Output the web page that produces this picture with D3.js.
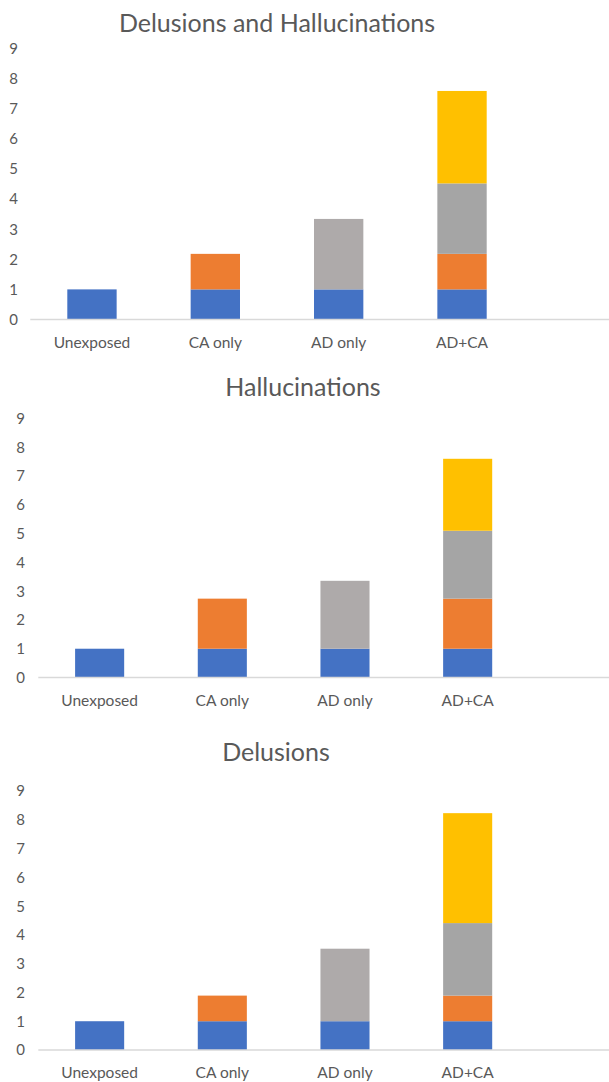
<!DOCTYPE html>
<html>
<head>
<meta charset="utf-8">
<script src="https://cdn.jsdelivr.net/npm/d3@7"></script>
<style>
  body { margin: 0; background: #fff; }
  text { font-family: Lato, "Open Sans", sans-serif; fill: #595959; }
</style>
</head>
<body>
<div id="chart"></div>
<script>
// Data
var categories = ["Unexposed", "CA only", "AD only", "AD+CA"];
var yTicks = [0, 1, 2, 3, 4, 5, 6, 7, 8, 9];
var layerColors = ["#4472C4", "#ED7D31", "#A5A5A5", "#FFC000"];
// AD only bar uses a slightly warmer grey in the original
var greyByCategory = ["#A5A5A5", "#A5A5A5", "#AEAAAA", "#A5A5A5"];

var titles = ["Delusions and Hallucinations", "Hallucinations", "Delusions"];

// stacked segments per category: [blue, orange, grey, yellow]
var bothValues = [[1, 0, 0, 0], [1, 1.18, 0, 0], [1, 0, 2.34, 0], [1, 1.18, 2.34, 3.07]];
var hallValues = [[1, 0, 0, 0], [1, 1.74, 0, 0], [1, 0, 2.36, 0], [1, 1.74, 2.36, 2.50]];
var delValues  = [[1, 0, 0, 0], [1, 0.89, 0, 0], [1, 0, 2.52, 0], [1, 0.89, 2.52, 3.82]];

// --> CREATE SVG DRAWING AREA
var width = 609,
    height = 1082;

var svg = d3.select("#chart").append("svg")
        .attr("width", width)
        .attr("height", height);

var panels = [
  { title: titles[0], values: bothValues, titleX: 277, titleY: 32,
    x0: 30.3, x1: 523.7, yBottom: 319.5, yTop: 48.5, tickX: 18, catY: 348 },
  { title: titles[1], values: hallValues, titleX: 303, titleY: 396,
    x0: 38.3, x1: 529, yBottom: 677.5, yTop: 418.5, tickX: 25, catY: 706 },
  { title: titles[2], values: delValues, titleX: 276, titleY: 761,
    x0: 38.3, x1: 529, yBottom: 1050, yTop: 791, tickX: 25, catY: 1078 }
];

panels.forEach(drawPanel);

function drawPanel(p) {
  var g = svg.append("g");

  var x = d3.scaleBand()
      .domain(categories)
      .range([p.x0, p.x1])
      .paddingInner(0.6)
      .paddingOuter(0.3);

  var y = d3.scaleLinear()
      .domain([0, 9])
      .range([p.yBottom, p.yTop]);

  // title
  g.append("text")
      .attr("x", p.titleX)
      .attr("y", p.titleY)
      .attr("text-anchor", "middle")
      .style("font-size", "25px")
      .text(p.title);

  // y tick labels (no axis line in the original)
  g.selectAll(".ytick")
      .data(yTicks)
      .enter().append("text")
      .attr("class", "ytick")
      .attr("x", p.tickX)
      .attr("y", function(d) { return y(d); })
      .attr("dy", "0.36em")
      .attr("text-anchor", "end")
      .style("font-size", "15px")
      .text(function(d) { return d; });

  // stacked bars
  var rows = p.values.map(function(v, i) {
    return { cat: categories[i], s0: v[0], s1: v[1], s2: v[2], s3: v[3] };
  });
  var stack = d3.stack().keys(["s0", "s1", "s2", "s3"]);
  var series = stack(rows);

  series.forEach(function(layer, li) {
    g.selectAll(".bar-" + li)
        .data(layer.filter(function(d) { return d[1] - d[0] > 0; }))
        .enter().append("rect")
        .attr("class", "bar-" + li)
        .attr("x", function(d) { return x(d.data.cat); })
        .attr("width", x.bandwidth())
        .attr("y", function(d) { return y(d[1]); })
        .attr("height", function(d) { return y(d[0]) - y(d[1]); })
        .attr("fill", function(d) {
          if (li == 2) {
            return greyByCategory[categories.indexOf(d.data.cat)];
          }
          return layerColors[li];
        });
  });

  // category axis line
  g.append("line")
      .attr("x1", p.x0)
      .attr("x2", width)
      .attr("y1", y(0))
      .attr("y2", y(0))
      .attr("stroke", "#D9D9D9")
      .attr("stroke-width", 1.5);

  g.selectAll(".xlabel")
      .data(categories)
      .enter().append("text")
      .attr("class", "xlabel")
      .attr("x", function(d) { return x(d) + x.bandwidth() / 2; })
      .attr("y", p.catY)
      .attr("text-anchor", "middle")
      .style("font-size", "15.5px")
      .text(function(d) { return d; });
}
</script>
</body>
</html>
